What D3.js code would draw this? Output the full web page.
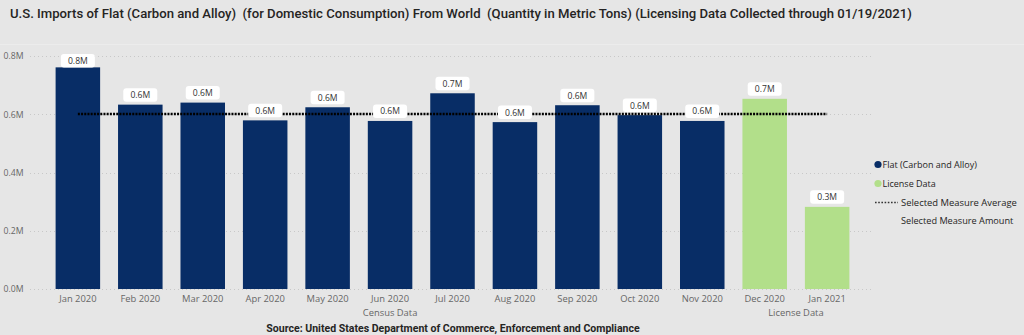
<!DOCTYPE html>
<html><head><meta charset="utf-8">
<script src="https://cdn.jsdelivr.net/npm/d3@7"></script>
<style>
html,body{margin:0;padding:0;background:#e6e6e6;}
svg{display:block;}
</style></head>
<body><svg id="c" width="1024" height="335"></svg>
<script>
const months = ["Jan 2020","Feb 2020","Mar 2020","Apr 2020","May 2020","Jun 2020","Jul 2020","Aug 2020","Sep 2020","Oct 2020","Nov 2020","Dec 2020","Jan 2021"];
const values = [0.761,0.633,0.640,0.579,0.624,0.577,0.672,0.573,0.631,0.597,0.577,0.653,0.282]; // millions of metric tons
const source = ["Census","Census","Census","Census","Census","Census","Census","Census","Census","Census","Census","License","License"];
const labels = ["0.8M","0.6M","0.6M","0.6M","0.6M","0.6M","0.7M","0.6M","0.6M","0.6M","0.6M","0.7M","0.3M"];
const average = 0.601;
const yTicks = [0,0.2,0.4,0.6,0.8];
const groups = [{name:"Census Data", first:"Jan 2020", last:"Nov 2020"},{name:"License Data", first:"Dec 2020", last:"Jan 2021"}];
const legendItems = ["Flat (Carbon and Alloy)","License Data","Selected Measure Average","Selected Measure Amount"];
const title = "U.S. Imports of Flat (Carbon and Alloy)  (for Domestic Consumption) From World  (Quantity in Metric Tons) (Licensing Data Collected through 01/19/2021)";
const sourceText = "Source: United States Department of Commerce, Enforcement and Compliance";

const navy = "#082d66", green = "#b2df8a", grey = "#666";
const svg = d3.select("#c");

function fitWidth(sel, size, target){
  const w = sel.node().getComputedTextLength();
  sel.attr("font-size", size*target/w);
}

// title
const t = svg.append("text").attr("x",10).attr("y",18)
  .attr("font-family","Roboto, 'Liberation Sans', sans-serif").attr("font-weight",500).attr("font-size",13.5)
  .attr("fill","#252423").style("white-space","pre").text(title);
fitWidth(t,13.5,903);

svg.append("line").attr("x1",0).attr("x2",1024).attr("y1",44.5).attr("y2",44.5)
  .attr("stroke","#ececec").attr("stroke-width",1);

const x = d3.scaleBand().domain(months).range([33,872]).paddingInner(0.287).paddingOuter(0.362);
const y = d3.scaleLinear().domain([0,0.8]).range([289,56]);

// grid
svg.append("g").selectAll("line").data(yTicks).join("line")
  .attr("x1",30).attr("x2",872).attr("y1",d=>Math.round(y(d))+0.5).attr("y2",d=>Math.round(y(d))+0.5)
  .attr("stroke","#c8c8c8").attr("stroke-width",1).attr("stroke-dasharray","1,3");

// y axis labels
const yAxis = d3.axisLeft(y).tickValues(yTicks).tickFormat(d=>d.toFixed(1)+"M").tickSize(0).tickPadding(0);
const ga = svg.append("g").attr("transform","translate(23.5,0)").call(yAxis);
ga.select(".domain").remove();
ga.selectAll("text").attr("font-family","'Open Sans', sans-serif").attr("font-size",8.7).attr("fill",grey);

// bars
svg.append("g").selectAll("rect").data(months).join("rect")
  .attr("x",d=>x(d)).attr("width",x.bandwidth())
  .attr("y",(d,i)=>y(values[i])).attr("height",(d,i)=>y(0)-y(values[i]))
  .attr("fill",(d,i)=>source[i]==="Census"?navy:green);

// average line
svg.append("line").attr("x1",x(months[0])+x.bandwidth()/2).attr("x2",x(months[months.length-1])+x.bandwidth()/2)
  .attr("y1",y(average)).attr("y2",y(average))
  .attr("stroke","#000").attr("stroke-width",2.6).attr("stroke-dasharray","2,1.2");

// data labels
const lg = svg.append("g").selectAll("g").data(months).join("g")
  .attr("transform",(d,i)=>{
    let top = y(values[i]) - 3 - 13.5;
    if (top < 54) top = 54;
    return `translate(${x(d)+x.bandwidth()/2},${top})`;
  });
lg.append("rect").attr("x",-17).attr("y",0).attr("width",34).attr("height",13.5).attr("rx",3).attr("fill","#fff");
lg.append("text").attr("y",10).attr("text-anchor","middle").attr("font-family","'Open Sans', sans-serif")
  .attr("font-size",8.6).attr("fill","#333").text((d,i)=>labels[i]);

// x labels
svg.append("g").selectAll("text").data(months).join("text")
  .attr("x",d=>x(d)+x.bandwidth()/2).attr("y",301.5).attr("text-anchor","middle")
  .attr("font-family","'Open Sans', sans-serif").attr("font-size",9.4).attr("fill",grey).text(d=>d);

svg.append("g").selectAll("text").data(groups).join("text")
  .attr("x",g=>(x(g.first)+x(g.last))/2+x.bandwidth()/2).attr("y",315.5).attr("text-anchor","middle")
  .attr("font-family","'Open Sans', sans-serif").attr("font-size",9.4).attr("fill",grey).text(g=>g.name);

// source
const st = svg.append("text").attr("x",453).attr("y",332).attr("text-anchor","middle")
  .attr("font-family","Roboto, sans-serif").attr("font-weight","bold").attr("font-size",10)
  .attr("fill","#252423").text(sourceText);
fitWidth(st,10,374);

// legend
const leg = svg.append("g");
const ly = [164.5,183.5,202.5,221];
leg.append("circle").attr("cx",878).attr("cy",ly[0]).attr("r",3.6).attr("fill",navy);
leg.append("circle").attr("cx",878).attr("cy",ly[1]).attr("r",3.6).attr("fill",green);
leg.append("line").attr("x1",875).attr("x2",898).attr("y1",ly[2]).attr("y2",ly[2])
  .attr("stroke","#333").attr("stroke-width",1.6).attr("stroke-dasharray","1.6,1.6");
legendItems.forEach((s,i)=>{
  const tx = leg.append("text").attr("x",i<2?882.5:901).attr("y",ly[i]+3.3)
    .attr("font-family","'Open Sans', sans-serif").attr("font-size",9).attr("fill","#252423").text(s);
  if (i===2) fitWidth(tx,9,116);
  if (i===3) fitWidth(tx,9,116*0.97);
});
</script></body></html>
